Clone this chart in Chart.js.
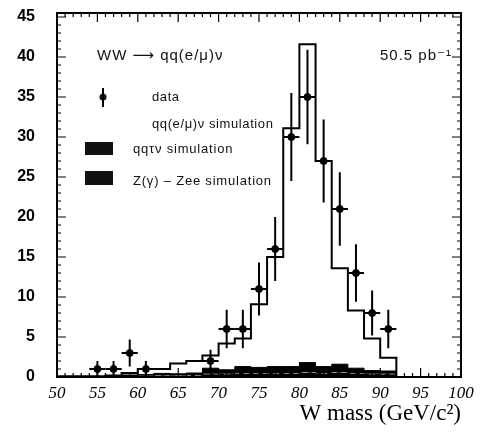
<!DOCTYPE html>
<html>
<head>
<meta charset="utf-8">
<script src="https://cdn.jsdelivr.net/npm/chart.js@4"></script>
<style>
html, body { margin: 0; padding: 0; background: #fff; }
#wrap { width: 486px; height: 433px; }
</style>
</head>
<body>
<div id="wrap"><canvas id="chart" width="486" height="433"></canvas></div>
<script>
// data points (bin centres, entries, errors)
const dataMass = [55, 57, 59, 61, 69, 71, 73, 75, 77, 79, 81, 83, 85, 87, 89, 91];
const dataCount = [1, 1, 3, 1, 2, 6, 6, 11, 16, 30, 35, 27, 21, 13, 8, 6];
const dataErr = [1, 1, 1.7, 1, 1.4, 2.4, 2.4, 3.3, 4, 5.5, 5.9, 5.2, 4.6, 3.6, 2.8, 2.4];

// 2 GeV bins, lower edges 50 .. 90
const binEdges = [50, 52, 54, 56, 58, 60, 62, 64, 66, 68, 70, 72, 74, 76, 78, 80, 82, 84, 86, 88, 90];
// total simulation qq(e/mu)nu + backgrounds
const simTotal = [0.1, 0.1, 0.1, 0.2, 0.5, 1.0, 1.0, 1.7, 2.0, 2.7, 4.2, 4.8, 9.1, 15.0, 31.1, 41.6, 27.0, 13.6, 8.3, 4.8, 2.4];
// backgrounds
const simZee = [0, 0, 0, 0.05, 0.1, 0.15, 0.2, 0.2, 0.25, 0.4, 0.4, 0.5, 0.5, 0.5, 0.5, 0.6, 0.5, 0.6, 0.5, 0.4, 0.4];
const simTau = [0, 0, 0, 0.05, 0.15, 0.15, 0.25, 0.2, 0.25, 0.7, 0.5, 0.8, 0.7, 0.8, 0.8, 1.2, 0.8, 1.0, 0.6, 0.4, 0.35];

const xTicks = [50, 55, 60, 65, 70, 75, 80, 85, 90, 95, 100];
const yTicks = [0, 5, 10, 15, 20, 25, 30, 35, 40, 45];

// build step points for histogram (value of bin i is drawn up to the next edge)
function stepPoints(vals) {
    const pts = [{ x: 50, y: vals[0] }];
    binEdges.forEach((e, i) => pts.push({ x: e + 2, y: vals[i] }));
    pts.push({ x: 92, y: 0 });
    pts.push({ x: 100, y: 0 });
    return pts;
}

const bkgTop = simZee.map((v, i) => v + simTau[i]);

// frame, ticks, error bars, legend
const decoPlugin = {
    id: 'deco',
    afterDatasetsDraw(chart) {
        const ctx = chart.ctx;
        const xs = chart.scales.x, ys = chart.scales.y;
        const a = chart.chartArea;
        ctx.save();

        // error bars
        ctx.strokeStyle = '#000';
        ctx.lineWidth = 2;
        dataMass.forEach((m, i) => {
            const px = xs.getPixelForValue(m);
            const py = ys.getPixelForValue(dataCount[i]);
            ctx.beginPath();
            ctx.moveTo(px, ys.getPixelForValue(dataCount[i] - dataErr[i]));
            ctx.lineTo(px, ys.getPixelForValue(dataCount[i] + dataErr[i]));
            ctx.moveTo(xs.getPixelForValue(m - 1), py);
            ctx.lineTo(xs.getPixelForValue(m + 1), py);
            ctx.stroke();
        });

        // frame
        ctx.lineWidth = 2;
        ctx.strokeRect(a.left, a.top, a.right - a.left, a.bottom - a.top);

        // inside ticks
        ctx.lineWidth = 1.2;
        ctx.beginPath();
        for (let v = 50; v <= 100; v++) {
            const px = xs.getPixelForValue(v);
            const len = v % 5 === 0 ? 9 : 4;
            ctx.moveTo(px, a.bottom); ctx.lineTo(px, a.bottom - len);
            ctx.moveTo(px, a.top); ctx.lineTo(px, a.top + len);
        }
        for (let v = 0; v <= 45; v++) {
            const py = ys.getPixelForValue(v);
            const len = v % 5 === 0 ? 9 : 4;
            ctx.moveTo(a.left, py); ctx.lineTo(a.left + len, py);
            ctx.moveTo(a.right, py); ctx.lineTo(a.right - len, py);
        }
        ctx.stroke();

        // legend
        ctx.fillStyle = '#111';
        ctx.textBaseline = 'middle';
        ctx.font = '15px "Liberation Sans", "DejaVu Sans", sans-serif';
        ctx.letterSpacing = '1px';
        ctx.fillText('WW \u27f6 qq(e/\u03bc)\u03bd', 97, 56);
        ctx.fillText('50.5 pb\u207b\u00b9', 380, 56);

        ctx.beginPath();
        ctx.arc(103, 97, 3.5, 0, Math.PI * 2);
        ctx.fill();
        ctx.lineWidth = 2;
        ctx.beginPath();
        ctx.moveTo(103, 88); ctx.lineTo(103, 107);
        ctx.stroke();

        ctx.font = '13px "Liberation Sans", Arial, sans-serif';
        ctx.letterSpacing = '0.6px';
        ctx.fillText('data', 152, 97);
        ctx.fillText('qq(e/\u03bc)\u03bd simulation', 152, 124);
        ctx.letterSpacing = '0.8px';
        ctx.fillRect(85, 142, 28, 13);
        ctx.fillText('qq\u03c4\u03bd simulation', 133, 149);
        ctx.fillRect(85, 171, 28, 14);
        ctx.fillText('Z(\u03b3) \u2013 Zee simulation', 133, 181);

        ctx.restore();
    }
};

const chart = new Chart(document.getElementById('chart'), {
    type: 'scatter',
    data: {
        datasets: [
            {
                label: 'data',
                data: dataMass.map((m, i) => ({ x: m, y: dataCount[i] })),
                backgroundColor: '#000',
                borderColor: '#000',
                pointRadius: 3.5,
                showLine: false
            },
            {
                label: 'qq(e/mu)nu simulation',
                type: 'line',
                data: stepPoints(simTotal),
                stepped: 'after',
                borderColor: '#000',
                borderWidth: 2,
                pointRadius: 0,
                fill: false
            },
            {
                label: 'qq tau nu simulation',
                type: 'line',
                data: stepPoints(bkgTop),
                stepped: 'after',
                borderColor: '#000',
                borderWidth: 1,
                backgroundColor: '#000',
                pointRadius: 0,
                fill: '+1'
            },
            {
                label: 'Z(gamma) - Zee simulation',
                type: 'line',
                data: stepPoints(simZee),
                stepped: 'after',
                borderColor: '#fff',
                borderWidth: 1,
                borderDash: [6, 4],
                backgroundColor: '#000',
                pointRadius: 0,
                fill: 'origin'
            }
        ]
    },
    options: {
        responsive: false,
        animation: false,
        devicePixelRatio: 1,
        layout: { padding: { top: 13, right: 25, left: 0, bottom: 0 } },
        plugins: {
            legend: { display: false },
            tooltip: { enabled: false }
        },
        scales: {
            x: {
                type: 'linear',
                min: 50,
                max: 100,
                afterBuildTicks: s => { s.ticks = xTicks.map(v => ({ value: v })); },
                afterFit: s => { s.height = 56; s.paddingLeft = 0; s.paddingRight = 0; },
                grid: { display: false, drawTicks: false },
                border: { display: false },
                ticks: {
                    color: '#000',
                    padding: 6,
                    maxRotation: 0,
                    font: { family: '"Liberation Serif", "Times New Roman", serif', style: 'italic', size: 17 }
                },
                title: {
                    display: true,
                    text: 'W mass (GeV/c\u00b2)',
                    align: 'end',
                    color: '#000',
                    padding: { top: 0, bottom: 5 },
                    font: { family: '"Liberation Serif", "Times New Roman", serif', size: 23 }
                }
            },
            y: {
                min: 0,
                max: 45.5,
                afterBuildTicks: s => { s.ticks = yTicks.map(v => ({ value: v })); },
                afterFit: s => { s.width = 57; s.paddingTop = 0; s.paddingBottom = 0; },
                grid: { display: false, drawTicks: false },
                border: { display: false },
                ticks: {
                    color: '#000',
                    padding: 22,
                    font: { family: '"Liberation Sans", Arial, sans-serif', weight: 'bold', size: 16 }
                }
            }
        }
    },
    plugins: [decoPlugin]
});
</script>
</body>
</html>
